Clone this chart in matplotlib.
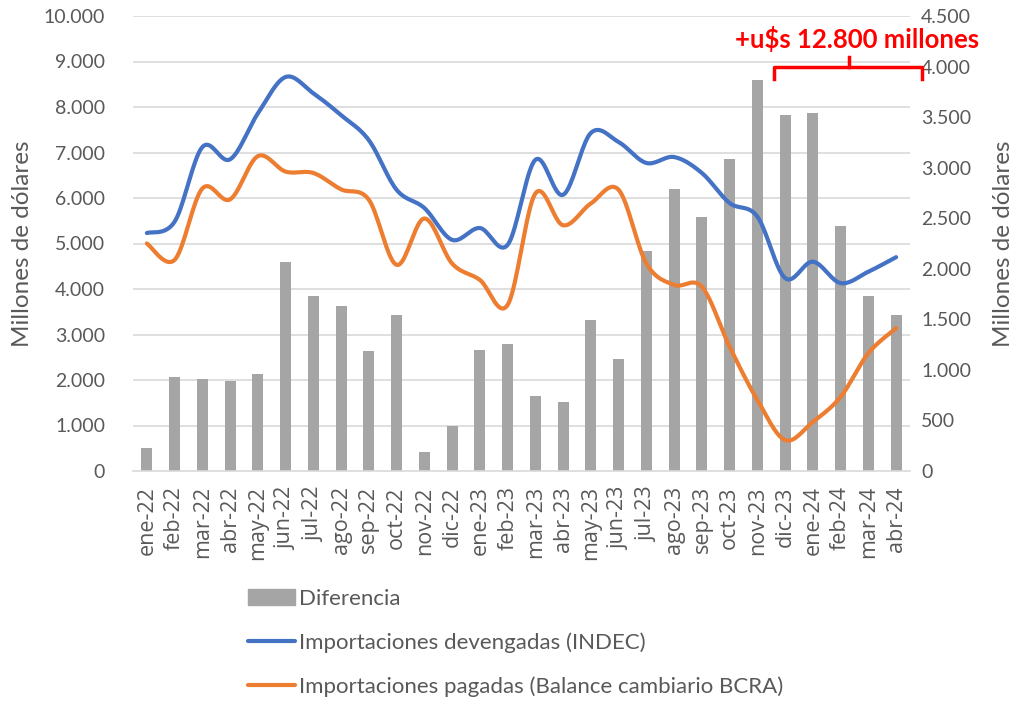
import numpy as np
import matplotlib
matplotlib.use('Agg')
import matplotlib.pyplot as plt
from matplotlib.patches import Patch
from matplotlib.lines import Line2D
from matplotlib.transforms import blended_transform_factory

plt.rcParams['font.family'] = ['Lato', 'DejaVu Sans']

# DATOS

meses = ['ene-22', 'feb-22', 'mar-22', 'abr-22', 'may-22', 'jun-22', 'jul-22',
         'ago-22', 'sep-22', 'oct-22', 'nov-22', 'dic-22', 'ene-23', 'feb-23',
         'mar-23', 'abr-23', 'may-23', 'jun-23', 'jul-23', 'ago-23', 'sep-23',
         'oct-23', 'nov-23', 'dic-23', 'ene-24', 'feb-24', 'mar-24', 'abr-24']

devengadas = [5230, 5480, 7120, 6850, 7860, 8660, 8300, 7820, 7270, 6180,
              5780, 5080, 5340, 4970, 6840, 6070, 7430, 7230, 6770, 6900,
              6550, 5890, 5590, 4240, 4600, 4130, 4380, 4700]

pagadas = [5000, 4640, 6210, 5970, 6920, 6580, 6550, 6190, 5960, 4530,
           5550, 4560, 4200, 3650, 6100, 5400, 5880, 6180, 4560, 4090,
           4050, 2730, 1560, 680, 1080, 1630, 2590, 3140]

diferencia = [230, 930, 910, 890, 960, 2070, 1730, 1630, 1190, 1540,
              190, 445, 1200, 1255, 745, 685, 1490, 1110, 2175, 2790,
              2510, 3090, 3870, 3520, 3540, 2420, 1730, 1540]

azul = '#4472C4'
naranja = '#ED7D31'
gris = '#A5A5A5'
texto = '#595959'


def suavizar(y, n=20):
    # curva tipo Excel (bezier entre puntos)
    y = np.asarray(y, dtype=float)
    x = np.arange(len(y), dtype=float)
    pts = np.column_stack([x, y])
    xs, ys = [], []
    t = np.linspace(0, 1, n)
    for i in range(len(pts) - 1):
        p0 = pts[max(i - 1, 0)]
        p1 = pts[i]
        p2 = pts[i + 1]
        p3 = pts[min(i + 2, len(pts) - 1)]
        c1 = p1 + (p2 - p0) / 6
        c2 = p2 - (p3 - p1) / 6
        b = ((1 - t) ** 3)[:, None] * p1 + (3 * (1 - t) ** 2 * t)[:, None] * c1 \
            + (3 * (1 - t) * t ** 2)[:, None] * c2 + (t ** 3)[:, None] * p2
        xs.extend(b[:, 0])
        ys.extend(b[:, 1])
    return np.array(xs), np.array(ys)


fig = plt.figure(figsize=(10.31, 7.04), dpi=100)
ax = fig.add_axes([133 / 1031, 1 - 471 / 704, 777 / 1031, 455 / 704])
ax2 = ax.twinx()
ax.set_zorder(2)
ax2.set_zorder(1)
ax.patch.set_visible(False)

x = np.arange(len(meses))

# barras (eje derecho)
ax2.bar(x, diferencia, width=0.4, color=gris, zorder=2)
ax2.set_ylim(0, 4500)
ax2.set_yticks(np.arange(0, 4501, 500))
ax2.set_yticklabels([f'{v:,}'.replace(',', '.') for v in range(0, 4501, 500)])

# lineas (eje izquierdo)
xd, yd = suavizar(devengadas)
xp, yp = suavizar(pagadas)
ax.plot(xd, yd, color=azul, lw=3, solid_capstyle='round')
ax.plot(xp, yp, color=naranja, lw=3, solid_capstyle='round')
ax.set_ylim(0, 10000)
ax.set_xlim(-0.5, len(meses) - 0.5)
ax.set_yticks(np.arange(0, 10001, 1000))
ax.set_yticklabels([f'{v:,}'.replace(',', '.') for v in range(0, 10001, 1000)])

# grilla detras de las barras
tr = blended_transform_factory(ax2.transAxes, ax.transData)
for v in range(1000, 10001, 1000):
    ax2.add_line(Line2D([0, 1], [v, v], transform=tr, color='#D9D9D9', lw=1.2, zorder=0))

ax.set_xticks(x)
ax.set_xticklabels(meses, rotation=90, family=['Open Sans', 'DejaVu Sans'])

for a in (ax, ax2):
    for s in a.spines.values():
        s.set_visible(False)
    a.tick_params(length=0, labelsize=14, colors=texto)
ax.spines['bottom'].set_visible(True)
ax.spines['bottom'].set_color('#D9D9D9')
ax.spines['bottom'].set_linewidth(1.2)
ax.tick_params(axis='y', pad=20)
ax.tick_params(axis='x', pad=11, labelsize=15.5)
ax2.tick_params(axis='y', pad=8)

ax.set_ylabel('Millones de dólares', fontsize=17.5, color=texto, labelpad=8)
ax2.set_ylabel('Millones de dólares', fontsize=17.5, color=texto, labelpad=16)

# llave y anotacion
ax.plot([22.6, 22.6, 27.95, 27.95], [8620, 8880, 8880, 8620], color='red', lw=2.5, clip_on=False)
ax.plot([25.3, 25.3], [8880, 9100], color='red', lw=2.5, clip_on=False)
ax.text(25.6, 9500, '+u$s 12.800 millones', color='red', fontsize=18.5,
        fontweight='bold', ha='center', va='center', clip_on=False)

handles = [Patch(color=gris),
           Line2D([], [], color=azul, lw=3, solid_capstyle='round'),
           Line2D([], [], color=naranja, lw=3, solid_capstyle='round')]
labels = ['Diferencia', 'Importaciones devengadas (INDEC)',
          'Importaciones pagadas (Balance cambiario BCRA)']
leg = fig.legend(handles, labels, loc='upper left',
                 bbox_to_anchor=(248 / 1031, 1 - 589 / 704), frameon=False,
                 fontsize=16, handlelength=2.1, handletextpad=0.2,
                 labelspacing=1.05, borderpad=0, borderaxespad=0)
for t in leg.get_texts():
    t.set_color(texto)

plt.savefig('out.png', dpi=100)
